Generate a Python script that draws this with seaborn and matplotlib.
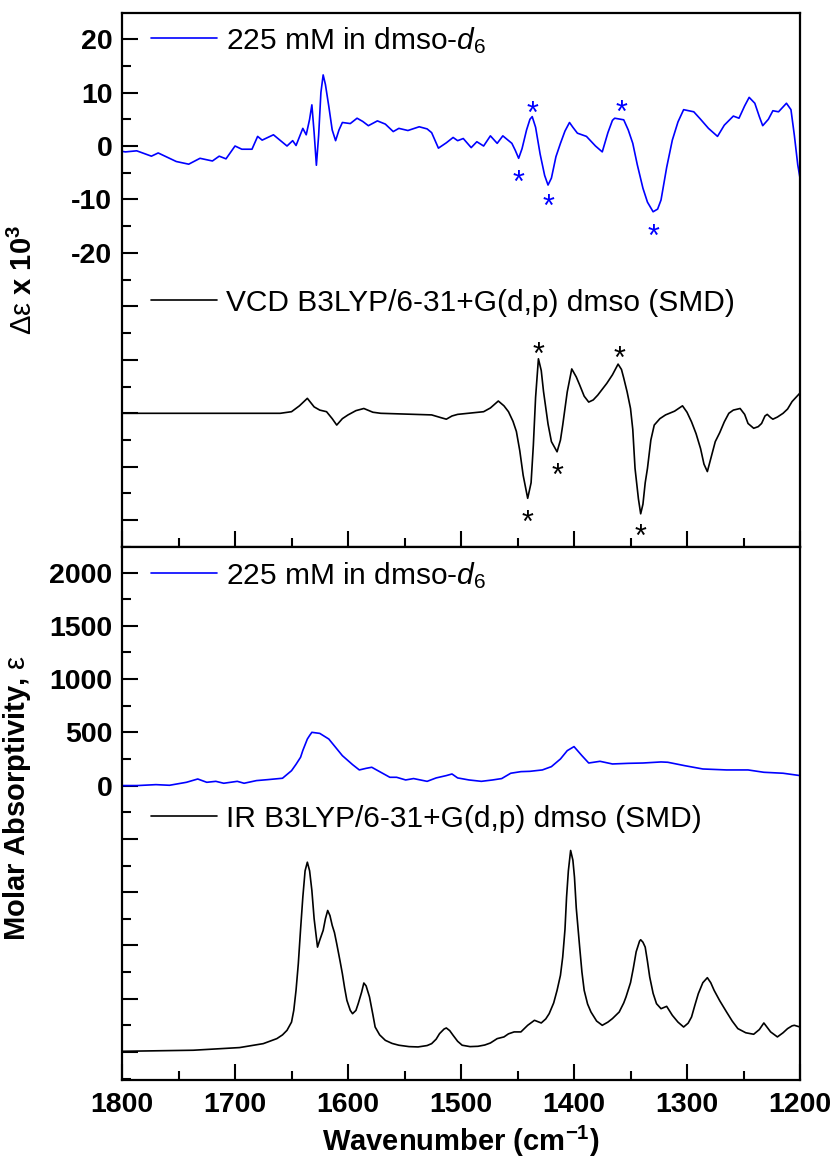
import matplotlib
matplotlib.use("Agg")
import matplotlib.pyplot as plt
import matplotlib.ticker as mticker
import matplotlib.transforms as mtransforms
import seaborn as sns

sns.set_style("ticks")
plt.rcParams["font.family"] = ["Liberation Sans", "DejaVu Sans"]
plt.rcParams["mathtext.fontset"] = "custom"
plt.rcParams["mathtext.rm"] = "Liberation Sans"
plt.rcParams["mathtext.it"] = "Liberation Sans:italic"
plt.rcParams["mathtext.bf"] = "Liberation Sans:bold"
for key in ["text.color", "axes.labelcolor", "xtick.color", "ytick.color", "axes.edgecolor"]:
    plt.rcParams[key] = "black"

# --- experimental VCD (dmso-d6), delta eps x 10^3 ---
exp_vcd_wn = [1800, 1797, 1787, 1774, 1768, 1752, 1741, 1731, 1720, 1714, 1708, 1700, 1694,
              1685, 1680, 1676, 1666, 1654, 1649, 1646, 1640, 1637, 1634, 1632, 1630, 1628,
              1626, 1624, 1622, 1620, 1617, 1614, 1611, 1608, 1605, 1598, 1592, 1587, 1582,
              1574, 1567, 1560, 1555, 1547, 1537, 1530, 1526, 1520, 1513, 1507, 1503, 1498,
              1491, 1486, 1480, 1474, 1468, 1463, 1455, 1452, 1449, 1446, 1442, 1439, 1437,
              1434, 1430, 1426, 1423, 1420, 1416, 1412, 1408, 1404, 1401, 1397, 1389, 1381,
              1375, 1370, 1366, 1364, 1356, 1352, 1348, 1344, 1339, 1335, 1330, 1326, 1323,
              1318, 1313, 1308, 1303, 1294, 1288, 1281, 1273, 1267, 1259, 1254, 1249, 1245,
              1240, 1236, 1233, 1228, 1224, 1219, 1212, 1208, 1205, 1202, 1200]
exp_vcd = [-1.0, -1.1, -0.9, -1.9, -1.3, -2.9, -3.4, -2.3, -2.8, -1.9, -2.4, 0.0, -0.6,
           -0.6, 1.8, 1.1, 2.1, 0.0, 1.0, 0.1, 3.3, 2.1, 5.0, 7.7, 2.5, -3.6,
           2.0, 10.0, 13.3, 11.5, 7.4, 3.0, 1.0, 3.0, 4.4, 4.2, 5.2, 4.6, 3.8,
           4.7, 4.1, 2.7, 3.3, 2.9, 3.6, 3.2, 2.5, -0.4, 0.6, 1.6, 1.0, 1.4,
           -0.3, 0.8, 0.0, 1.9, 0.5, 1.9, 0.5, -0.8, -2.3, -0.5, 3.0, 5.0, 5.5,
           3.5, -1.5, -5.5, -7.3, -6.0, -2.0, 0.5, 2.8, 4.4, 3.5, 2.4, 1.8, 0.0,
           -1.1, 2.5, 4.8, 5.2, 4.9, 3.0, 0.5, -3.5, -7.9, -10.5, -12.3, -11.8, -10.1,
           -4.0, 1.1, 4.5, 6.8, 6.4, 5.0, 3.3, 1.8, 3.9, 5.6, 5.2, 7.5, 9.1,
           8.0, 5.5, 3.8, 5.0, 6.6, 6.4, 8.0, 6.8, 2.0, -3.5, -6.0]

# --- calculated VCD B3LYP/6-31+G(d,p) (as drawn, offset baseline) ---
calc_vcd_wn = [1800, 1660, 1650, 1643, 1636, 1630, 1625, 1619, 1614, 1610, 1605, 1600, 1593,
               1586, 1578, 1571, 1526, 1518, 1513, 1508, 1503, 1480, 1474, 1467, 1462, 1458,
               1454, 1451, 1448, 1445, 1441, 1438, 1436, 1434, 1431.5, 1429, 1427, 1423, 1420,
               1415, 1412, 1410, 1406, 1402, 1398, 1395, 1391, 1387, 1383, 1379, 1371, 1366,
               1361, 1358, 1356, 1353, 1350, 1348, 1346, 1343, 1341, 1339, 1337, 1335, 1332,
               1329, 1324, 1319, 1311, 1304, 1300, 1296, 1292, 1288, 1285, 1282, 1279, 1275,
               1271, 1267, 1263, 1259, 1253, 1249, 1246, 1241, 1237, 1234, 1231, 1229, 1226,
               1224, 1220, 1215, 1211, 1207, 1200]
calc_vcd = [-50.0, -50.0, -49.7, -48.6, -47.2, -48.8, -49.4, -49.7, -51.0, -52.2, -51.0, -50.3, -49.5,
            -49.1, -49.8, -50.0, -50.3, -50.8, -51.1, -50.5, -50.2, -49.7, -49.0, -47.7, -48.6, -49.7,
            -51.5, -53.4, -57.0, -61.6, -65.9, -63.0, -56.0, -47.0, -39.8, -42.0, -45.9, -52.0, -55.3,
            -57.2, -55.0, -52.2, -46.0, -41.7, -43.2, -44.7, -46.8, -47.9, -47.5, -46.6, -44.4, -42.8,
            -40.8, -41.8, -43.4, -46.0, -49.1, -53.0, -60.3, -66.0, -68.8, -67.0, -63.0, -60.3, -55.0,
            -52.2, -51.0, -50.3, -49.6, -48.6, -49.8, -51.6, -53.8, -56.6, -59.5, -60.9, -58.5, -55.3,
            -53.6, -51.6, -50.0, -49.4, -49.1, -50.2, -51.9, -52.8, -52.5, -51.9, -50.5, -50.2, -50.8,
            -51.1, -50.7, -50.0, -49.2, -47.8, -46.2]

# --- experimental IR, molar absorptivity ---
exp_ir_wn = [1800, 1787, 1770, 1758, 1743, 1733, 1725, 1717, 1710, 1698, 1692, 1681, 1671,
             1658, 1650, 1646, 1642, 1640, 1636, 1634, 1632, 1625, 1617, 1605, 1596, 1590,
             1584, 1579, 1571, 1563, 1557, 1549, 1542, 1536, 1530, 1522, 1513, 1508, 1503,
             1493, 1482, 1472, 1464, 1456, 1447, 1439, 1428, 1420, 1412, 1406, 1400, 1393,
             1387, 1377, 1366, 1352, 1339, 1323, 1317, 1302, 1286, 1265, 1246, 1232, 1215, 1200]
exp_ir = [0, 0, 9, 3, 31, 62, 31, 40, 22, 40, 22, 47, 56,
          69, 140, 200, 266, 330, 437, 470, 500, 490, 437, 281, 197, 147,
          162, 172, 125, 78, 78, 53, 66, 53, 40, 72, 94, 109, 72,
          53, 40, 53, 66, 116, 131, 134, 147, 178, 250, 328, 366, 281,
          212, 228, 203, 209, 212, 222, 219, 187, 156, 147, 147, 125, 116, 94]

# --- calculated IR B3LYP/6-31+G(d,p) (as drawn, offset baseline) ---
calc_ir_wn = [1800, 1737, 1696, 1675, 1663, 1658, 1654, 1650, 1648, 1646, 1644, 1642, 1640,
              1638, 1636, 1634, 1632, 1630, 1627, 1625, 1622, 1620, 1618, 1616, 1614, 1612,
              1610, 1607, 1605, 1603, 1601, 1598, 1596, 1593, 1591, 1588, 1586, 1584, 1581,
              1578, 1576, 1572, 1567, 1561, 1555, 1546, 1538, 1530, 1526, 1522, 1519, 1515,
              1513, 1510, 1507, 1503, 1499, 1492, 1485, 1479, 1474, 1468, 1462, 1458, 1453,
              1447, 1441, 1435, 1429, 1425, 1422, 1418, 1415, 1412, 1410, 1408, 1406.6, 1405,
              1403, 1401, 1399.6, 1398, 1395, 1393, 1391, 1388, 1385, 1380, 1375, 1370, 1366,
              1360, 1356, 1354, 1350, 1347.6, 1345, 1342, 1341, 1339, 1337, 1335, 1333, 1330,
              1327, 1323, 1318, 1313, 1308, 1303, 1299, 1296, 1293, 1290, 1286, 1282, 1279,
              1276, 1271, 1265, 1260, 1255, 1248, 1241, 1236, 1232, 1229, 1226, 1220, 1215,
              1211, 1207, 1205, 1200]
calc_ir = [-2494, -2484, -2459, -2422, -2375, -2340, -2297, -2220, -2109, -1920, -1672, -1350, -1047,
           -800, -719, -800, -984, -1250, -1516, -1450, -1359, -1250, -1172, -1220, -1312, -1380,
           -1484, -1650, -1766, -1900, -2016, -2110, -2141, -2110, -2047, -1940, -1853, -1880, -1984,
           -2150, -2266, -2340, -2391, -2420, -2437, -2450, -2453, -2440, -2422, -2380, -2328, -2285,
           -2275, -2300, -2344, -2400, -2437, -2450, -2447, -2435, -2416, -2375, -2359, -2330, -2312,
           -2312, -2250, -2203, -2228, -2190, -2141, -2040, -1922, -1780, -1609, -1350, -1047, -800,
           -609, -700, -859, -1150, -1516, -1750, -1922, -2050, -2125, -2210, -2250, -2220, -2187,
           -2125, -2040, -1984, -1850, -1719, -1560, -1460, -1447, -1470, -1516, -1650, -1797, -1950,
           -2047, -2094, -2072, -2156, -2220, -2266, -2230, -2172, -2060, -1953, -1850, -1803, -1850,
           -1922, -2020, -2125, -2210, -2281, -2320, -2334, -2290, -2228, -2270, -2312, -2359, -2320,
           -2281, -2255, -2250, -2266]

# band markers (*)
exp_star_wn = [1437, 1449, 1423, 1358, 1330]
exp_star_y = [7.4, -5.4, -10.0, 7.7, -15.6]
calc_star_wn = [1431, 1441, 1415, 1360, 1341]
calc_star_y = [-37.7, -69.0, -60.2, -38.3, -71.7]

labels = ["225 mM in dmso-$\\mathit{d}_{\\mathit{6}}$",
          "VCD B3LYP/6-31+G(d,p) dmso (SMD)",
          "IR B3LYP/6-31+G(d,p) dmso (SMD)"]

BLUE = "#0000ff"
FS = 20.5
LEG_FS = 21.5
LW = 1.2
STAR_FS = 22

fig = plt.figure(figsize=(8.37, 11.62), dpi=100)
ax1 = fig.add_axes([0.1458, 0.5293, 0.8100, 0.4596])
ax2 = fig.add_axes([0.1458, 0.0706, 0.8100, 0.4587], sharex=ax1)

sns.lineplot(x=exp_vcd_wn, y=exp_vcd, ax=ax1, color=BLUE, lw=LW, label=labels[0])
sns.lineplot(x=calc_vcd_wn, y=calc_vcd, ax=ax1, color="black", lw=LW, label=labels[1])
sns.lineplot(x=exp_ir_wn, y=exp_ir, ax=ax2, color=BLUE, lw=LW, label=labels[0])
sns.lineplot(x=calc_ir_wn, y=calc_ir, ax=ax2, color="black", lw=LW, label=labels[2])

# asterisks: shift so the glyph's ink centre sits at the data point
star_tr = mtransforms.offset_copy(ax1.transData, fig=fig, y=-0.55 * STAR_FS, units="points")
for x, y in zip(exp_star_wn, exp_star_y):
    ax1.text(x, y, "*", color=BLUE, fontsize=STAR_FS, ha="center", va="baseline", transform=star_tr)
for x, y in zip(calc_star_wn, calc_star_y):
    ax1.text(x, y, "*", color="black", fontsize=STAR_FS, ha="center", va="baseline", transform=star_tr)

ax1.set_xlim(1800, 1200)
ax1.set_ylim(-75, 24.9)
ax2.set_ylim(-2763, 2240)

# two separate legends per panel
for ax, ys in [(ax1, (0.949, 0.457)), (ax2, (0.947, 0.490))]:
    lines = ax.get_lines()
    if ax.get_legend():
        ax.get_legend().remove()
    leg1 = ax.legend([lines[0]], [lines[0].get_label()], loc="center left",
                     bbox_to_anchor=(0.043, ys[0]), frameon=False, fontsize=LEG_FS,
                     handlelength=2.2, handletextpad=0.3, borderpad=0, borderaxespad=0)
    ax.add_artist(leg1)
    ax.legend([lines[1]], [lines[1].get_label()], loc="center left",
              bbox_to_anchor=(0.043, ys[1]), frameon=False, fontsize=LEG_FS,
              handlelength=2.2, handletextpad=0.3, borderpad=0, borderaxespad=0)

# ticks
ax1.yaxis.set_major_locator(mticker.FixedLocator(list(range(-70, 21, 10))))
ax1.yaxis.set_minor_locator(mticker.MultipleLocator(5))
ax1.yaxis.set_major_formatter(mticker.FuncFormatter(lambda v, p: f"{v:.0f}" if v >= -20 else ""))
ax2.yaxis.set_major_locator(mticker.FixedLocator(list(range(-2500, 2001, 500))))
ax2.yaxis.set_minor_locator(mticker.MultipleLocator(250))
ax2.yaxis.set_major_formatter(mticker.FuncFormatter(lambda v, p: f"{v:.0f}" if v >= 0 else ""))
ax2.xaxis.set_major_locator(mticker.MultipleLocator(100))
ax2.xaxis.set_minor_locator(mticker.MultipleLocator(50))

for ax in (ax1, ax2):
    ax.tick_params(which="both", direction="in", width=1.5, top=False, right=False, color="black")
    ax.tick_params(which="major", length=11.5)
    ax.tick_params(which="minor", length=6.5)
    ax.tick_params(axis="y", labelsize=FS, pad=7, labelcolor="black")
    ax.tick_params(axis="x", labelsize=FS, pad=9, labelcolor="black")
    for lab in ax.get_yticklabels() + ax.get_xticklabels():
        lab.set_fontweight("bold")
    for sp in ax.spines.values():
        sp.set_linewidth(1.6)
        sp.set_color("black")
ax1.tick_params(axis="x", labelbottom=False)

ax1.set_ylabel("$\\mathrm{\\Delta\\varepsilon}$ x 10$^{\\mathbf{3}}$", fontsize=21, fontweight="bold")
ax2.set_ylabel("Molar Absorptivity, $\\mathrm{\\varepsilon}$", fontsize=21, fontweight="bold")
ax1.yaxis.set_label_coords(-0.124, 0.5)
ax2.yaxis.set_label_coords(-0.131, 0.53)
ax2.set_xlabel("Wavenumber (cm$^{\\mathbf{-1}}$)", fontsize=21, fontweight="bold")
ax1.set_xlabel("")

fig.savefig("out.png", dpi=100)
